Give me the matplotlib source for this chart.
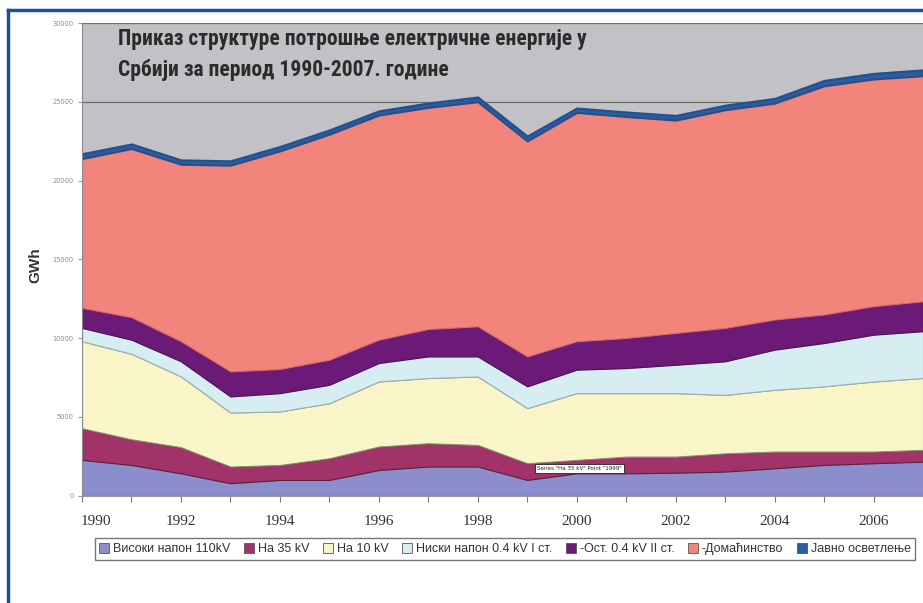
import matplotlib
matplotlib.use("Agg")
import matplotlib.pyplot as plt
from matplotlib.lines import Line2D
from matplotlib.patches import Patch
from matplotlib.transforms import ScaledTranslation

# Потрошња по категоријама, GWh (очитано са графика)
years = list(range(1990, 2008))
visoki_110 = [2270, 1950, 1420, 790, 1000, 1000, 1630, 1850, 1850, 1000, 1420, 1420, 1460, 1530, 1740, 1950, 2060, 2160]
na_35 = [2010, 1630, 1660, 1060, 950, 1380, 1490, 1480, 1370, 1060, 850, 1060, 1020, 1160, 1060, 850, 740, 750]
na_10 = [5520, 5430, 4490, 3430, 3400, 3490, 4130, 4140, 4350, 3500, 4240, 4030, 4030, 3710, 3920, 4140, 4450, 4560]
niski_1 = [850, 890, 960, 1020, 1160, 1170, 1170, 1370, 1270, 1380, 1490, 1590, 1800, 2130, 2550, 2750, 2970, 2970]
ost_2 = [1270, 1430, 1270, 1590, 1530, 1590, 1480, 1740, 1910, 1900, 1800, 1910, 2020, 2120, 1910, 1810, 1810, 1900]
domacinstvo = [9480, 10710, 11240, 13090, 13850, 14320, 14260, 14070, 14260, 13680, 14530, 14060, 13510, 13850, 13740, 14520, 14420, 14320]
javno = [300, 280, 270, 270, 270, 260, 260, 270, 290, 300, 270, 280, 290, 280, 290, 330, 350, 360]

labels = ["Високи напон 110kV", "На 35 kV", "На 10 kV", "Ниски напон 0.4 kV I ст.",
          "-Ост. 0.4 kV II ст.", "-Домаћинство", "Јавно осветлење"]
colors = ["#8b8dcc", "#a2326a", "#faf5c8", "#d6edf2", "#6b1a78", "#f2847c", "#2e5d9f"]
edges = ["#7a7cb8", "#5a2233", "#8a8f70", "#9ab0b4", "#4e1058", "#d86a64", "#24508f"]
tick_years = [1990, 1992, 1994, 1996, 1998, 2000, 2002, 2004, 2006]

fig = plt.figure(figsize=(9.23, 6.03), dpi=100)
ax = fig.add_axes([82 / 923, 1 - 495.7 / 603, 1 - 82 / 923, (495.7 - 23) / 603])
ax.set_facecolor("#c2c2c6")

polys = ax.stackplot(years, visoki_110, na_35, na_10, niski_1, ost_2, domacinstvo, javno,
                     colors=colors, zorder=2)
for p, ec in zip(polys, edges):
    p.set_edgecolor(ec)
    p.set_linewidth(0.8)
polys[-1].set_linewidth(1.6)

ax.set_xlim(1990, 2007)
ax.set_ylim(0, 30000)
ax.set_yticks(range(0, 30001, 5000))
ax.set_yticklabels([str(v) for v in range(0, 30001, 5000)], fontsize=4.8, color="#8a8a8a")
ax.grid(axis="y", color="#6e6e6e", linewidth=0.9, zorder=1)
ax.set_axisbelow(True)

ax.set_xticks(years)
ax.set_xticklabels([str(y) if y in tick_years else "" for y in years],
                   fontsize=11, family=["Liberation Serif", "DejaVu Serif"], color="#333333")
ax.tick_params(axis="x", length=4, pad=10, color="#777777")
ax.tick_params(axis="y", length=3, pad=3, color="#999999")
first = ax.get_xticklabels()[0]
first.set_transform(first.get_transform() + ScaledTranslation(0.14, 0, fig.dpi_scale_trans))

for s in ["top", "right"]:
    ax.spines[s].set_visible(False)
ax.spines["left"].set_color("#8a8a8a")
ax.spines["bottom"].set_color("#9a9a9a")

fig.text(35 / 923, 1 - 265 / 603, "GWh", rotation=90, ha="center", va="center",
         fontsize=11, fontweight="bold", family=["Liberation Sans", "DejaVu Sans"], color="#333333")

title = "Приказ структуре потрошње електричне енергије у\nСрбији за период 1990-2007. године"
fig.text(118 / 923, 1 - 28 / 603, title, ha="left", va="top", fontsize=15.5, fontweight="bold",
         family=["Roboto Condensed", "Roboto", "DejaVu Sans"], fontstretch="condensed",
         color="#2b2b2b", linespacing=1.55)

ax.text(1999.2, 1750, 'Series "На 35 kV" Point "1999"', fontsize=4, va="center", ha="left",
        color="#222222", zorder=5,
        bbox=dict(facecolor="white", edgecolor="#222222", linewidth=0.6, boxstyle="square,pad=0.35"))

handles = [Patch(facecolor=c, edgecolor="#555555", linewidth=0.6) for c in colors]
leg = fig.legend(handles, labels, loc="center", bbox_to_anchor=(505 / 923, 1 - 549 / 603), ncol=7,
                 frameon=True, fancybox=False, handlelength=0.8, handleheight=0.8,
                 handletextpad=0.3, columnspacing=1.1, borderpad=0.35,
                 prop={"family": ["Liberation Sans", "DejaVu Sans"], "size": 9})
leg.get_frame().set_edgecolor("#555555")
leg.get_frame().set_linewidth(1.0)
for t in leg.get_texts():
    t.set_color("#333333")

# плави оквир слике
fig.add_artist(Line2D([8 / 923, 8 / 923], [0, 1 - 10 / 603], color="#1f4e9a", linewidth=2.5))
fig.add_artist(Line2D([8 / 923, 1], [1 - 10 / 603, 1 - 10 / 603], color="#1f4e9a", linewidth=2.5))

fig.savefig("out.png", dpi=100)
